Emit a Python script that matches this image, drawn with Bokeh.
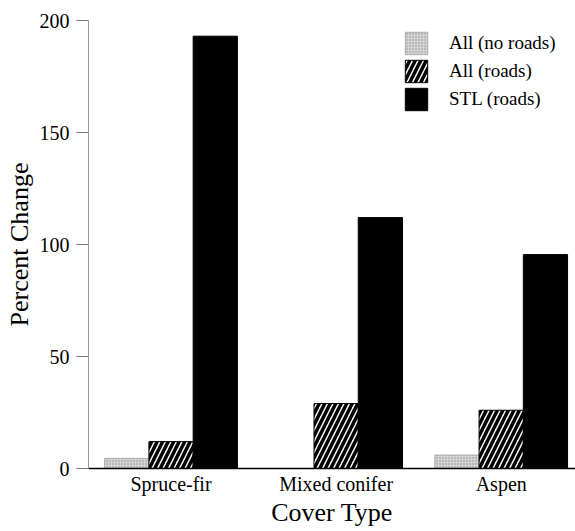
from bokeh.plotting import figure
from bokeh.models import ColumnDataSource, Range1d, FixedTicker, Legend, LegendItem
from bokeh.transform import dodge
from bokeh.embed import file_html
from bokeh.resources import INLINE

categories = ["Spruce-fir", "Mixed conifer", "Aspen"]
all_no_roads = [4.5, 0.0, 6.0]
all_roads = [12.0, 29.0, 26.0]
stl_roads = [193.0, 112.0, 95.5]
y_ticks = [0, 50, 100, 150, 200]

xs = list(range(len(categories)))
src = ColumnDataSource(dict(x=xs, a=all_no_roads, b=all_roads, c=stl_roads))

FONT = "Liberation Serif"

p = figure(width=575, height=531, output_backend="svg", toolbar_location=None,
           x_range=Range1d(-0.5, 2.45), y_range=Range1d(0, 200),
           min_border_left=88, min_border_right=0, min_border_top=20, min_border_bottom=63)
p.outline_line_color = None
p.grid.grid_line_color = None
p.background_fill_color = "white"
p.border_fill_color = "white"

w = 0.268
r1 = p.vbar(x=dodge("x", -w, range=p.x_range), top="a", width=w, source=src,
            fill_color="#d4d4d4", line_color="#aaaaaa", line_width=1,
            hatch_pattern="dot", hatch_color="#8f8f8f", hatch_scale=3, hatch_weight=1)
r2 = p.vbar(x=dodge("x", 0, range=p.x_range), top="b", width=w, source=src,
            fill_color="white", line_color="black", line_width=1,
            hatch_pattern="/", hatch_color="black", hatch_scale=11, hatch_weight=3.5)
r3 = p.vbar(x=dodge("x", w, range=p.x_range), top="c", width=w, source=src,
            fill_color="black", line_color="black")

legend = Legend(items=[LegendItem(label="All (no roads)", renderers=[r1]),
                       LegendItem(label="All (roads)", renderers=[r2]),
                       LegendItem(label="STL (roads)", renderers=[r3])],
                location=(314, 355), border_line_color=None, background_fill_alpha=0,
                glyph_width=28, glyph_height=28, label_standoff=19, spacing=0,
                label_text_font=FONT, label_text_font_size="19px",
                label_text_color="black", padding=0, margin=0)
p.add_layout(legend)

p.yaxis.ticker = FixedTicker(ticks=y_ticks)
p.yaxis.minor_tick_line_color = None
p.yaxis.major_tick_in = 0
p.yaxis.major_tick_out = 12
p.yaxis.axis_line_color = "#999999"
p.yaxis.major_tick_line_color = "#777777"
p.yaxis.major_label_standoff = 7
p.yaxis.major_label_text_font = FONT
p.yaxis.major_label_text_font_size = "20px"
p.yaxis.major_label_text_color = "black"
p.yaxis.axis_label = "Percent Change"
p.yaxis.axis_label_text_font = FONT
p.yaxis.axis_label_text_font_size = "26px"
p.yaxis.axis_label_text_font_style = "normal"
p.yaxis.axis_label_text_color = "black"
p.yaxis.axis_label_standoff = 3

p.xaxis.ticker = FixedTicker(ticks=xs)
p.xaxis.major_label_overrides = {i: c for i, c in zip(xs, categories)}
p.xaxis.major_tick_line_color = None
p.xaxis.minor_tick_line_color = None
p.xaxis.major_tick_in = 0
p.xaxis.major_tick_out = 0
p.xaxis.axis_line_color = "black"
p.xaxis.axis_line_width = 1.5
p.xaxis.major_label_standoff = 4
p.xaxis.major_label_text_font = FONT
p.xaxis.major_label_text_font_size = "20px"
p.xaxis.major_label_text_color = "black"
p.xaxis.axis_label = "Cover Type"
p.xaxis.axis_label_text_font = FONT
p.xaxis.axis_label_text_font_size = "26px"
p.xaxis.axis_label_text_font_style = "normal"
p.xaxis.axis_label_text_color = "black"
p.xaxis.axis_label_standoff = 0

open("out.html", "w").write(file_html(p, INLINE))
